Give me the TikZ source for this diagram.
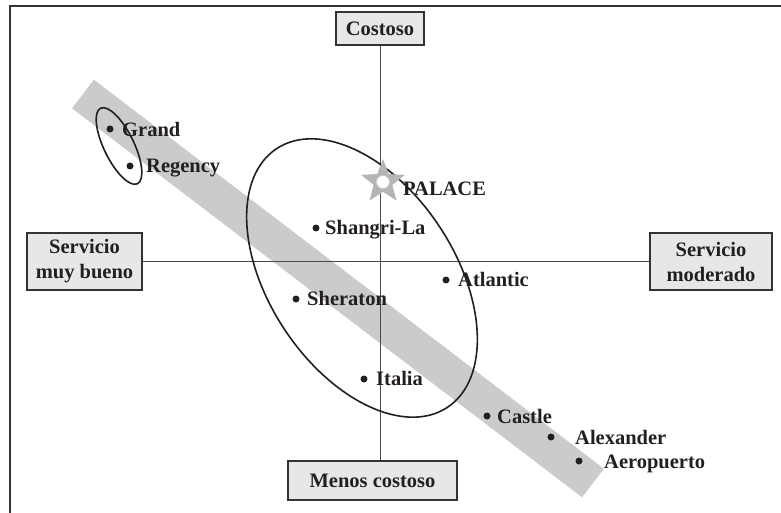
\documentclass[tikz,border=0pt]{standalone}
\usepackage{fontspec}
\setmainfont{Liberation Serif}
\usetikzlibrary{shapes.geometric}
\definecolor{bandgray}{HTML}{CBCBCB}
\definecolor{boxfill}{HTML}{E6E7E8}
\definecolor{boxline}{HTML}{333333}
\definecolor{ink}{HTML}{231F20}
\definecolor{axisgray}{HTML}{4A4A4A}
\definecolor{stargray}{HTML}{B5B5B5}
\begin{document}
\begin{tikzpicture}[x=1pt,y=-1pt,
  txt/.style={font=\fontsize{20.5}{25}\selectfont\bfseries, text=ink},
  box/.style={txt, draw=boxline, fill=boxfill, line width=1.4pt, inner sep=0pt, align=center},
  lbl/.style={txt, anchor=base west, inner sep=0pt},
  dot/.style={circle, fill=ink, minimum size=7pt, inner sep=0pt},
  axisline/.style={draw=axisgray, line width=1pt},
  ring/.style={draw=ink, line width=1.6pt}]
\useasboundingbox (0,0) rectangle (781,513);
% frame
\draw[line width=2pt, color=boxline] (10,513) -- (10,6) -- (781,6);
% gray band
\draw[line width=36pt, color=bandgray] (83,94) -- (593,483);
% boxes
\node[box, minimum width=88pt, minimum height=33pt] (cost) at (380,28.5) {Costoso};
\node[box, minimum width=169pt, minimum height=39pt] (menos) at (372.5,480.5) {Menos costoso};
\node[box, minimum width=115pt, minimum height=57pt] (muy) at (84.5,261.5) {Servicio\\muy bueno};
\node[box, minimum width=122pt, minimum height=57pt] (mod) at (711,261.5) {Servicio\\moderado};
% axes
\draw[axisline] (cost.south) -- (cost.south |- menos.north);
\draw[axisline] (muy.east) -- (mod.west);
% ellipses
\draw[ring, rotate around={-56.6:(362,278)}] (362,278) ellipse [x radius=155pt, y radius=93pt];
\draw[ring, rotate around={-64:(119,146)}] (119,146) ellipse [x radius=42pt, y radius=15pt];
% star
\coordinate (palace) at (383,182);
\fill[stargray, shift={(palace)}] (-90:23) -- (-54:9.8) -- (-18:23) -- (18:9.8) -- (54:23) -- (90:9.8) -- (126:23) -- (162:9.8) -- (198:23) -- (234:9.8) -- cycle;
\node[circle, fill=white, draw=stargray!70, line width=0.6pt, minimum size=13pt, inner sep=0pt] (palacehole) at (palace) {};
\node[lbl] (palaceL) at (403,195) {PALACE};
% hotels
\node[dot] (grand) at (110,129) {};
\node[lbl] (grandL) at (122,136.5) {Grand};
\node[dot] (regency) at (130,166) {};
\node[lbl] (regencyL) at (146,173) {Regency};
\node[dot] (shangri) at (316,228) {};
\node[lbl] (shangriL) at (325,234.5) {Shangri-La};
\node[dot] (atlantic) at (446,280) {};
\node[lbl] (atlanticL) at (458,286.5) {Atlantic};
\node[dot] (sheraton) at (296,299) {};
\node[lbl] (sheratonL) at (307,305.5) {Sheraton};
\node[dot] (italia) at (364,379) {};
\node[lbl] (italiaL) at (376,385.5) {Italia};
\node[dot] (castle) at (487,416) {};
\node[lbl] (castleL) at (497,423) {Castle};
\node[dot] (alexander) at (551,437) {};
\node[lbl] (alexanderL) at (575,444) {Alexander};
\node[dot] (aeropuerto) at (579,461) {};
\node[lbl] (aeropuertoL) at (604,468) {Aeropuerto};
\end{tikzpicture}
\end{document}
